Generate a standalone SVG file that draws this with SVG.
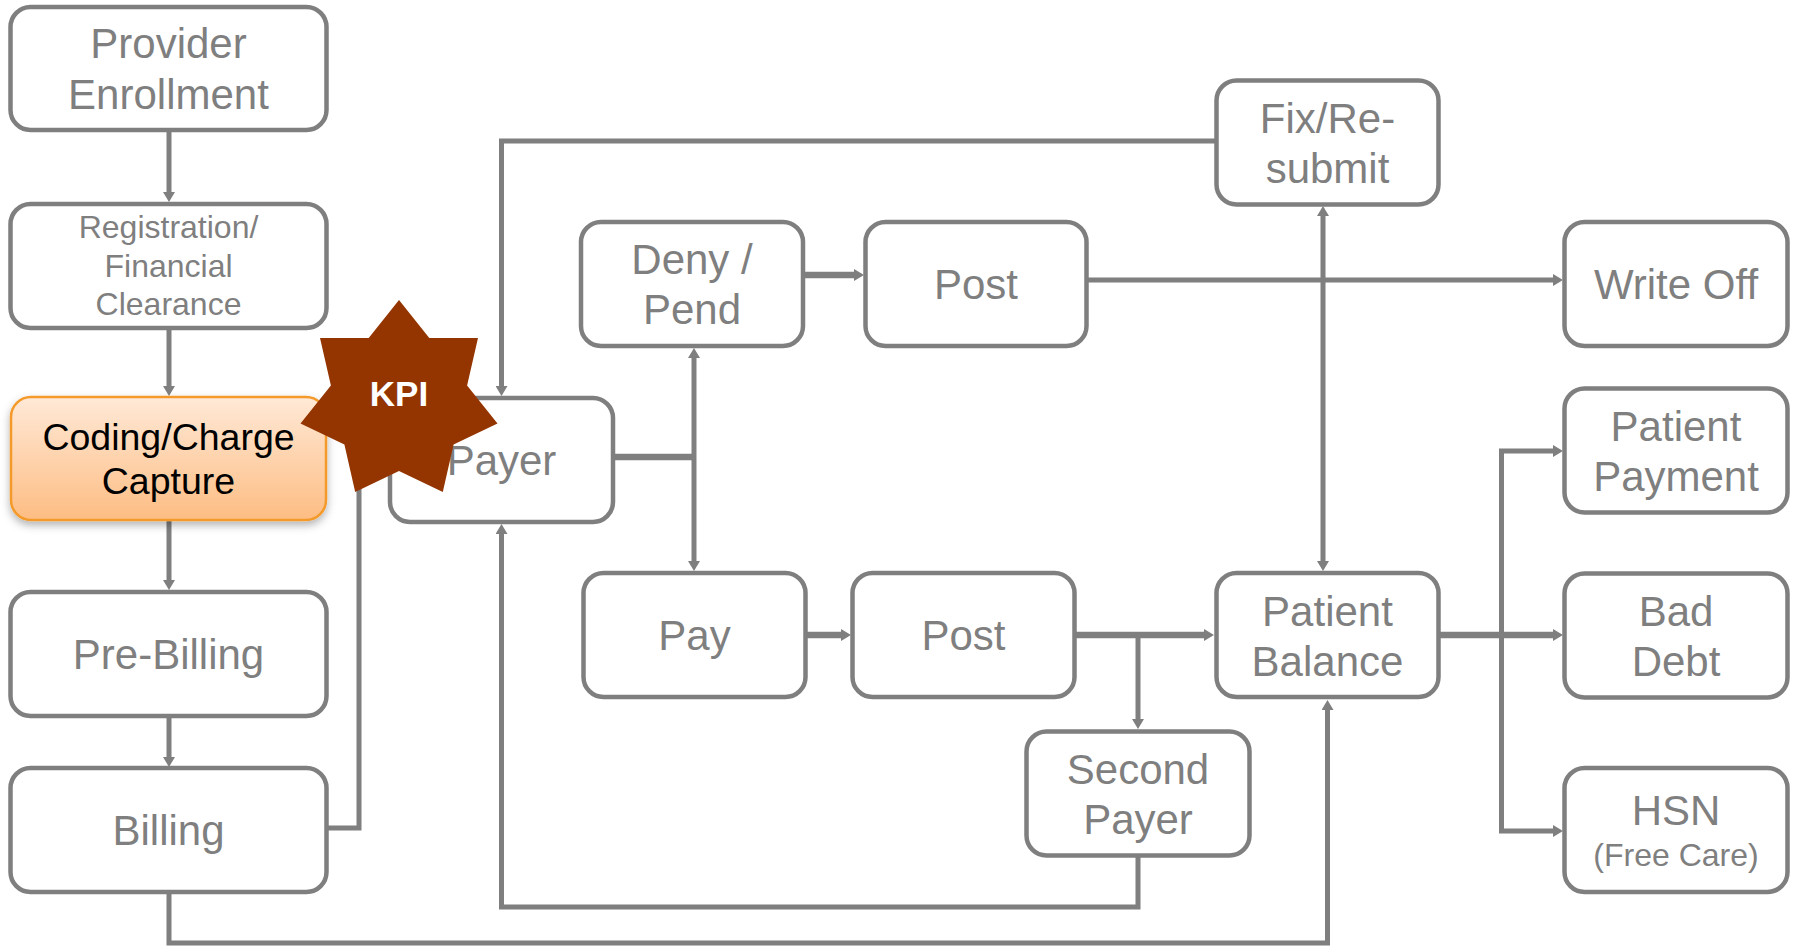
<svg xmlns="http://www.w3.org/2000/svg" width="1798" height="947" viewBox="0 0 1798 947">
  <defs>
    <style>
      .box { fill: #ffffff; stroke: #7f7f7f; stroke-width: 4.5; }
      .lbl { font-family: "Liberation Sans", Arial, sans-serif; font-size: 42px; fill: #7f7f7f; text-anchor: middle; }
      .sm { font-size: 32px; }
      .link { fill: none; stroke: #7f7f7f; stroke-width: 5; stroke-linejoin: miter; }
      .thick { stroke-width: 6.5; }
      .arr { marker-end: url(#head); }
    </style>
    <marker id="head" viewBox="0 0 10 12" markerWidth="10" markerHeight="12" refX="0" refY="6" orient="auto-start-reverse" markerUnits="userSpaceOnUse">
      <path d="M0,0 L10,6 L0,12 z" fill="#7f7f7f"/>
    </marker>
    <linearGradient id="orangeFill" x1="0" y1="0" x2="0" y2="1">
      <stop offset="0" stop-color="#ffe9d7"/>
      <stop offset="1" stop-color="#fdbd83"/>
    </linearGradient>
    <filter id="shadow" x="-10%" y="-10%" width="120%" height="130%">
      <feDropShadow dx="0" dy="4" stdDeviation="4" flood-color="#000000" flood-opacity="0.3"/>
    </filter>
  </defs>

  <rect width="1798" height="947" fill="#ffffff"/>

  <!-- connectors -->
  <g id="connectors">
    <path class="link arr" d="M169,130 V192"/>
    <path class="link arr" d="M169,328 V386"/>
    <path class="link arr" d="M169,520 V580"/>
    <path class="link arr" d="M169,716 V757"/>
    <path class="link arr" d="M327,828 H359 V457 H379"/>
    <path class="link arr" d="M1216,141 H501.5 V386"/>
    <path class="link thick" d="M613,457 H694"/>
    <path class="link arr" d="M694,457 V358"/>
    <path class="link arr" d="M694,457 V561"/>
    <path class="link thick arr" d="M803,275 H854"/>
    <path class="link thick arr" d="M806,635 H841"/>
    <path class="link thick arr" d="M1075,635 H1204"/>
    <path class="link arr" d="M1138,635 V719"/>
    <path class="link arr" d="M1138,856 V907 H501.5 V534"/>
    <path class="link arr" d="M1087,280 H1553"/>
    <path class="link arr" d="M1323,216 V561" marker-start="url(#head)"/>
    <path class="link arr" d="M169,892 V943 H1327.5 V710"/>
    <path class="link thick arr" d="M1440,635 H1553"/>
    <path class="link arr" d="M1501.5,635 V451 H1553"/>
    <path class="link arr" d="M1501.5,635 V831 H1553"/>
  </g>

  <!-- left column -->
  <g id="provider-enrollment">
    <rect class="box" x="10.5" y="7" width="316" height="123" rx="20"/>
    <text class="lbl" x="168.5" y="58">Provider</text>
    <text class="lbl" x="168.5" y="108.5">Enrollment</text>
  </g>
  <g id="registration">
    <rect class="box" x="10.5" y="204" width="316" height="124" rx="20"/>
    <text class="lbl sm" x="168.5" y="238">Registration/</text>
    <text class="lbl sm" x="168.5" y="277">Financial</text>
    <text class="lbl sm" x="168.5" y="315">Clearance</text>
  </g>
  <g id="coding">
    <rect x="11" y="397" width="315" height="123" rx="20" fill="url(#orangeFill)" stroke="#f49a2c" stroke-width="2.5" filter="url(#shadow)"/>
    <text class="lbl" x="168.5" y="449.5" style="font-size:37.5px;fill:#000000">Coding/Charge</text>
    <text class="lbl" x="168.5" y="493.5" style="font-size:37.5px;fill:#000000">Capture</text>
  </g>
  <g id="pre-billing">
    <rect class="box" x="10.5" y="592" width="316" height="124" rx="20"/>
    <text class="lbl" x="168.5" y="669">Pre-Billing</text>
  </g>
  <g id="billing">
    <rect class="box" x="10.5" y="768" width="316" height="124" rx="20"/>
    <text class="lbl" x="168.5" y="844.5">Billing</text>
  </g>

  <!-- claim flow -->
  <g id="payer">
    <rect class="box" x="390" y="398" width="223" height="124" rx="20"/>
    <text class="lbl" x="501.5" y="475">Payer</text>
  </g>
  <g id="deny-pend">
    <rect class="box" x="581" y="222" width="222" height="124" rx="20"/>
    <text class="lbl" x="692" y="274">Deny /</text>
    <text class="lbl" x="692" y="324">Pend</text>
  </g>
  <g id="post-denial">
    <rect class="box" x="865.5" y="222" width="221" height="124" rx="20"/>
    <text class="lbl" x="976" y="298.5">Post</text>
  </g>
  <g id="fix-resubmit">
    <rect class="box" x="1216.5" y="80.5" width="222" height="124" rx="20"/>
    <text class="lbl" x="1327.5" y="132.5">Fix/Re-</text>
    <text class="lbl" x="1327.5" y="183">submit</text>
  </g>
  <g id="write-off">
    <rect class="box" x="1564.5" y="222" width="223" height="124" rx="20"/>
    <text class="lbl" x="1676" y="298.5">Write Off</text>
  </g>
  <g id="patient-payment">
    <rect class="box" x="1564.5" y="388.5" width="223" height="124" rx="20"/>
    <text class="lbl" x="1676" y="440.5">Patient</text>
    <text class="lbl" x="1676" y="491">Payment</text>
  </g>
  <g id="pay">
    <rect class="box" x="583.5" y="573" width="222" height="124" rx="20"/>
    <text class="lbl" x="694.5" y="650">Pay</text>
  </g>
  <g id="post-payment">
    <rect class="box" x="852.5" y="573" width="222" height="124" rx="20"/>
    <text class="lbl" x="963.5" y="650">Post</text>
  </g>
  <g id="patient-balance">
    <rect class="box" x="1216.5" y="573" width="222" height="124" rx="20"/>
    <text class="lbl" x="1327.5" y="625.5">Patient</text>
    <text class="lbl" x="1327.5" y="675.5">Balance</text>
  </g>
  <g id="bad-debt">
    <rect class="box" x="1564.5" y="573.5" width="223" height="124" rx="20"/>
    <text class="lbl" x="1676" y="625.5">Bad</text>
    <text class="lbl" x="1676" y="675.5">Debt</text>
  </g>
  <g id="second-payer">
    <rect class="box" x="1026.5" y="731.5" width="223" height="124" rx="20"/>
    <text class="lbl" x="1138" y="783.5">Second</text>
    <text class="lbl" x="1138" y="833.5">Payer</text>
  </g>
  <g id="hsn">
    <rect class="box" x="1564.5" y="768" width="223" height="124" rx="20"/>
    <text class="lbl" x="1676" y="824.5">HSN</text>
    <text class="lbl sm" x="1676" y="865.5">(Free Care)</text>
  </g>

  <!-- KPI badge: seven-pointed star -->
  <g id="kpi">
    <polygon fill="#943500" points="399,300 429.3,338 478,338 467.1,385.4 497.5,423.5 453.6,444.6 442.8,492 399,470.9 355.2,492 344.4,444.6 300.5,423.5 330.9,385.4 320,338 368.7,338"/>
    <text x="399" y="406" text-anchor="middle" font-family="'Liberation Sans', Arial, sans-serif" font-size="35" font-weight="bold" fill="#ffffff">KPI</text>
  </g>
</svg>
